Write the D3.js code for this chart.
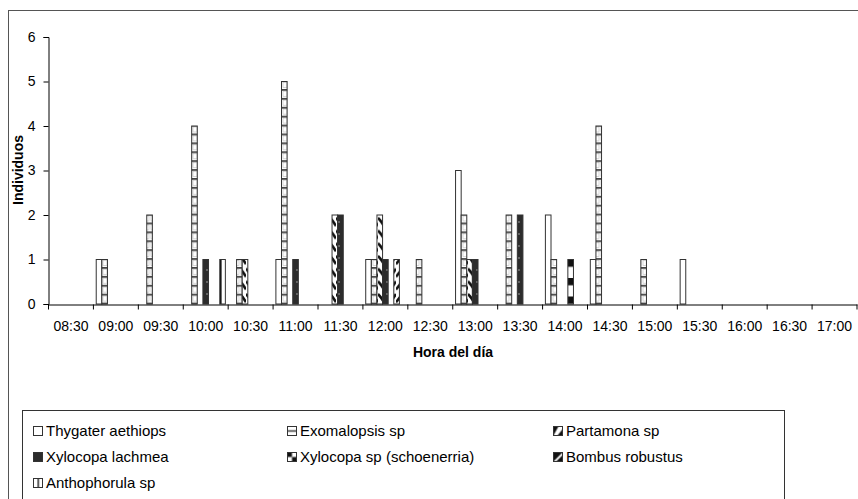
<!DOCTYPE html>
<html><head><meta charset="utf-8">
<script src="https://cdn.jsdelivr.net/npm/d3@7"></script>
<style>
html,body{margin:0;padding:0;background:#fff;}
svg{display:block;font-family:"Liberation Sans",Arial,sans-serif;}
</style></head>
<body>
<svg id="chart" width="858" height="499"></svg>
<script>
const categories = ["08:30","09:00","09:30","10:00","10:30","11:00","11:30","12:00","12:30","13:00","13:30","14:00","14:30","15:00","15:30","16:00","16:30","17:00"];
const seriesNames = ["Thygater aethiops","Exomalopsis sp","Partamona sp","Xylocopa lachmea","Xylocopa sp (schoenerria)","Bombus robustus","Anthophorula sp"];
const thygater    = [0,1,0,0,0,1,0,1,0,3,0,2,1,0,1,0,0,0];
const exomalopsis = [0,1,2,4,1,5,0,1,1,2,2,1,4,1,0,0,0,0];
const partamona   = [0,0,0,0,1,0,2,2,0,1,0,0,0,0,0,0,0,0];
const lachmea     = [0,0,0,1,0,1,2,1,0,1,2,0,0,0,0,0,0,0];
const xylocopaSp  = [0,0,0,0,0,0,0,0,0,0,0,1,0,0,0,0,0,0];
const bombus      = [0,0,0,0,0,0,0,1,0,0,0,0,0,0,0,0,0,0];
const anthophorula= [0,0,0,1,0,0,0,0,0,0,0,0,0,0,0,0,0,0];
const yTicks = [0,1,2,3,4,5,6];
const seriesValues = [thygater, exomalopsis, partamona, lachmea, xylocopaSp, bombus, anthophorula];
const patternIds = ["p-thy","p-exo","p-par","p-lac","p-xyl","p-bom","p-ant"];

const svg = d3.select("#chart");
const defs = svg.append("defs");

const x = d3.scaleBand().domain(categories).range([48.5, 857]).padding(0);
const xs = d3.scaleBand().domain(seriesNames).range([0, x.bandwidth()]).paddingInner(0).paddingOuter(0.5);
const y = d3.scaleLinear().domain([0,6]).range([304, 37]);

// bar patterns (user space)
function pat(id, w, h){ return defs.append("pattern").attr("id",id).attr("patternUnits","userSpaceOnUse").attr("width",w).attr("height",h); }
let p;
p = pat("p-thy",6,6); p.append("rect").attr("width",6).attr("height",6).attr("fill","#fff");
p = pat("p-exo",6,8.9); p.append("rect").attr("width",6).attr("height",8.9).attr("fill","#fff");
p.append("rect").attr("y",0).attr("width",6).attr("height",1.8).attr("fill","#444");
p.append("rect").attr("x",1).attr("y",2.2).attr("width",4).attr("height",5.4).attr("fill","#fff").attr("stroke","#bbb").attr("stroke-width",0.6);
p = pat("p-par",6,12.7); p.append("rect").attr("width",6).attr("height",12.7).attr("fill","#fff");
p.append("path").attr("d","M0,2 Q3,5 6,10").attr("stroke","#111").attr("stroke-width",2.6).attr("fill","none");
p = pat("p-lac",6,12); p.append("rect").attr("width",6).attr("height",12).attr("fill","#2c2c2c");
p.append("circle").attr("cx",3).attr("cy",6).attr("r",0.8).attr("fill","#aaa");
p = pat("p-xyl",6,18.5).attr("patternTransform",`translate(0,${y(1)})`);
p.append("rect").attr("width",6).attr("height",18.5).attr("fill","#fff");
p.append("rect").attr("width",6).attr("height",7.3).attr("fill","#111");
p = pat("p-bom",6,12.7); p.append("rect").attr("width",6).attr("height",12.7).attr("fill","#fff");
p.append("path").attr("d","M0,10 Q3,7 6,2").attr("stroke","#111").attr("stroke-width",2.6).attr("fill","none");
p = pat("p-ant",6,6); p.append("rect").attr("width",6).attr("height",6).attr("fill","#fff");
p.append("rect").attr("x",4).attr("width",1.6).attr("height",6).attr("fill","#111");

// legend patterns (bounding box)
function lpat(id){ return defs.append("pattern").attr("id",id).attr("patternUnits","objectBoundingBox").attr("patternContentUnits","objectBoundingBox").attr("width",1).attr("height",1); }
p = lpat("l-thy"); p.append("rect").attr("width",1).attr("height",1).attr("fill","#fff");
p = lpat("l-exo"); p.append("rect").attr("width",1).attr("height",1).attr("fill","#fff");
p.append("rect").attr("y",0.42).attr("width",1).attr("height",0.16).attr("fill","#333");
p = lpat("l-par"); p.append("rect").attr("width",1).attr("height",1).attr("fill","#fff");
p.append("path").attr("d","M0,0 L0.55,0 L0,1 Z M1,1 L0.45,1 L1,0.3 Z").attr("fill","#111");
p = lpat("l-lac"); p.append("rect").attr("width",1).attr("height",1).attr("fill","#2c2c2c");
p = lpat("l-xyl"); p.append("rect").attr("width",1).attr("height",1).attr("fill","#fff");
p.append("rect").attr("width",0.5).attr("height",0.5).attr("fill","#111");
p.append("rect").attr("x",0.5).attr("y",0.5).attr("width",0.5).attr("height",0.5).attr("fill","#111");
p = lpat("l-bom"); p.append("rect").attr("width",1).attr("height",1).attr("fill","#fff");
p.append("path").attr("d","M0,0 L1,0 L0,1 Z").attr("fill","#111");
p.append("path").attr("d","M1,0.3 L1,1 L0.3,1 Z").attr("fill","#111");
p = lpat("l-ant"); p.append("rect").attr("width",1).attr("height",1).attr("fill","#fff");
p.append("rect").attr("x",0.45).attr("width",0.15).attr("height",1).attr("fill","#111");
const legendPatternIds = ["l-thy","l-exo","l-par","l-lac","l-xyl","l-bom","l-ant"];

// outer chart border
svg.append("rect").attr("x",8.5).attr("y",10.5).attr("width",900).attr("height",600)
  .attr("fill","none").attr("stroke","#555").attr("stroke-width",1);

// bars
const g = svg.append("g");
seriesValues.forEach((vals, si) => {
  g.selectAll(null).data(categories.map((c,i)=>({c, v: vals[i]})).filter(d=>d.v>0))
    .join("rect")
    .attr("x", d => x(d.c) + xs(seriesNames[si]))
    .attr("y", d => y(d.v))
    .attr("width", xs.bandwidth())
    .attr("height", d => y(0) - y(d.v))
    .attr("fill", `url(#${patternIds[si]})`)
    .attr("stroke", "#333").attr("stroke-width", 1);
});

// y axis
const yAxis = d3.axisLeft(y).tickValues(yTicks).tickSize(5).tickPadding(8).tickFormat(d3.format("d"));
const ya = svg.append("g").attr("transform","translate(48.5,0)").call(yAxis);
ya.select(".domain").attr("stroke","#000");
ya.selectAll(".tick line").attr("stroke","#000");
ya.selectAll("text").attr("font-size",14).attr("fill","#000").attr("font-family","Liberation Sans, Arial, sans-serif");

// x axis
const xAxis = d3.axisBottom(x).tickSize(0).tickPadding(17);
const xa = svg.append("g").attr("transform","translate(0,304.5)").call(xAxis);
xa.select(".domain").attr("stroke","#000");
xa.selectAll("text").attr("font-size",14).attr("fill","#000").attr("font-family","Liberation Sans, Arial, sans-serif");
// boundary tick marks between categories
const bounds = categories.map(c => x(c)).concat([x(categories[categories.length-1]) + x.bandwidth()]);
xa.selectAll("line.bt").data(bounds).join("line").attr("class","bt")
  .attr("x1", d=>d).attr("x2", d=>d).attr("y1",0).attr("y2",5).attr("stroke","#000");

// axis titles
svg.append("text").attr("x",453).attr("y",357).attr("text-anchor","middle")
  .attr("font-size",14).attr("font-weight","bold").text("Hora del día");
svg.append("text").attr("transform","translate(23,170) rotate(-90)").attr("text-anchor","middle")
  .attr("font-size",14).attr("font-weight","bold").text("Individuos");

// legend
svg.append("rect").attr("x",22.5).attr("y",410.5).attr("width",762).attr("height",120)
  .attr("fill","#fff").attr("stroke","#333").attr("stroke-width",1);
const colX = [33, 287, 553];
const rowY = [431, 457, 483];
seriesNames.forEach((name, i) => {
  const cx = colX[i % 3], cy = rowY[Math.floor(i / 3)];
  svg.append("rect").attr("x", cx + 0.5).attr("y", cy - 4.5).attr("width", 9).attr("height", 9)
    .attr("fill", `url(#${legendPatternIds[i]})`).attr("stroke","#333").attr("stroke-width",1);
  svg.append("text").attr("x", cx + 13).attr("y", cy + 5).attr("font-size",15).attr("fill","#000").text(name);
});
</script>
</body></html>
